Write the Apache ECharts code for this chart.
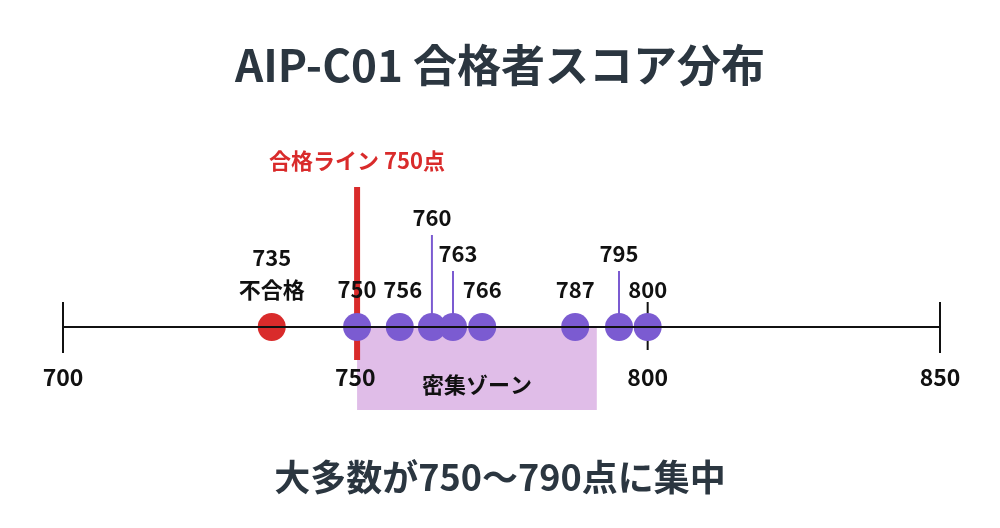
<!DOCTYPE html>
<html><head><meta charset="utf-8">
<script src="https://cdn.jsdelivr.net/npm/echarts@6/dist/echarts.min.js"></script>
<style>html,body{margin:0;background:#fff}#c{width:1000px;height:528px}</style>
</head><body><div id="c"></div>
<script>
const tickValues = [700, 750, 800, 850];
const failScore = [735.7];
const passScores = [750.3, 757.6, 763.1, 766.7, 771.7, 787.6, 795.1, 800];
const passLabels = ['750', '756', '760', '763', '766', '787', '795', '800'];
const labelLevel = [0, 0, 2, 1, 0, 0, 1, 0];
const passLine = 750.3;
const denseZone = [750.3, 791.3];
const FONT = '"Noto Sans CJK JP", "Noto Sans", sans-serif';
const ink = '#2b3640', purple = '#7b5bd1', red = '#d92b2b';

const chart = echarts.init(document.getElementById('c'));
chart.setOption({
  animation: false,
  title: [
    {text: 'AIP-C01 合格者スコア分布', left: 'center', top: 38, textStyle: {fontFamily: FONT, fontSize: 44, fontWeight: 'bold', color: ink}},
    {text: '大多数が750〜790点に集中', left: 'center', top: 454, textStyle: {fontFamily: FONT, fontSize: 36, fontWeight: 'bold', color: ink}}
  ],
  grid: {left: 63, right: 60, top: 100, bottom: 201},
  xAxis: {type: 'value', min: 700, max: 850, splitLine: {show: false}, z: 10,
    axisLine: {show: true, onZero: false, lineStyle: {color: '#111', width: 2}},
    axisTick: {show: false},
    axisLabel: {customValues: tickValues, margin: 39, fontFamily: FONT, fontSize: 23, fontWeight: 'bold', color: '#111'}},
  yAxis: {type: 'value', min: 0, max: 1, show: false},
  series: [
    {type: 'custom', z: 0, data: [denseZone], renderItem: (p, api) => {
      const a = api.coord([api.value(0), 0]), b = api.coord([api.value(1), 0]);
      return {type: 'group', children: [
        {type: 'rect', shape: {x: a[0], y: a[1], width: b[0] - a[0], height: 83}, style: {fill: '#e0bde8'}},
        {type: 'text', style: {text: '密集ゾーン', x: (a[0] + b[0]) / 2, y: a[1] + 58, align: 'center', verticalAlign: 'middle', font: 'bold 22px ' + FONT, fill: '#111'}}
      ]};
    }},
    {type: 'custom', z: 2, data: tickValues.filter(v => v !== 750), renderItem: (p, api) => {
      const c = api.coord([api.value(0), 0]);
      const long = api.value(0) !== 800;
      return {type: 'line', shape: {x1: c[0], y1: c[1] - 25, x2: c[0], y2: c[1] + (long ? 26 : 23)}, style: {stroke: '#111', lineWidth: 2}};
    }},
    {type: 'custom', z: 3, data: [passLine], renderItem: (p, api) => {
      const c = api.coord([api.value(0), 0]);
      return {type: 'group', children: [
        {type: 'rect', shape: {x: c[0] - 3, y: c[1] - 140, width: 6, height: 173}, style: {fill: red}},
        {type: 'text', style: {text: '合格ライン 750点', x: c[0], y: c[1] - 166, align: 'center', verticalAlign: 'middle', font: 'bold 22px ' + FONT, fill: red}}
      ]};
    }},
    {type: 'custom', z: 4, data: failScore, renderItem: (p, api) => {
      const c = api.coord([api.value(0), 0]);
      return {type: 'group', children: [
        {type: 'circle', shape: {cx: c[0], cy: c[1], r: 14}, style: {fill: red}},
        {type: 'text', style: {text: '735\n不合格', x: c[0], y: c[1] - 53, align: 'center', verticalAlign: 'middle', lineHeight: 32, font: 'bold 22px ' + FONT, fill: '#111'}}
      ]};
    }},
    {type: 'custom', z: 5, data: passScores.map((v, i) => [v, labelLevel[i], i]), renderItem: (p, api) => {
      const c = api.coord([api.value(0), 0]);
      const lvl = api.value(1), i = api.value(2);
      const ly = c[1] - 37 - lvl * 36;
      const kids = [];
      if (lvl > 0) kids.push({type: 'line', shape: {x1: c[0], y1: ly + 17, x2: c[0], y2: c[1] - 12}, style: {stroke: purple, lineWidth: 2}});
      kids.push({type: 'circle', shape: {cx: c[0], cy: c[1], r: 14}, style: {fill: purple}});
      const dx = [0, 3, 0, 5, 0, 0, 0, 0][i];
      kids.push({type: 'text', style: {text: passLabels[i], x: c[0] + dx, y: ly, align: 'center', verticalAlign: 'middle', font: 'bold 22px ' + FONT, fill: '#111'}});
      return {type: 'group', children: kids};
    }}
  ]
});
</script></body></html>
